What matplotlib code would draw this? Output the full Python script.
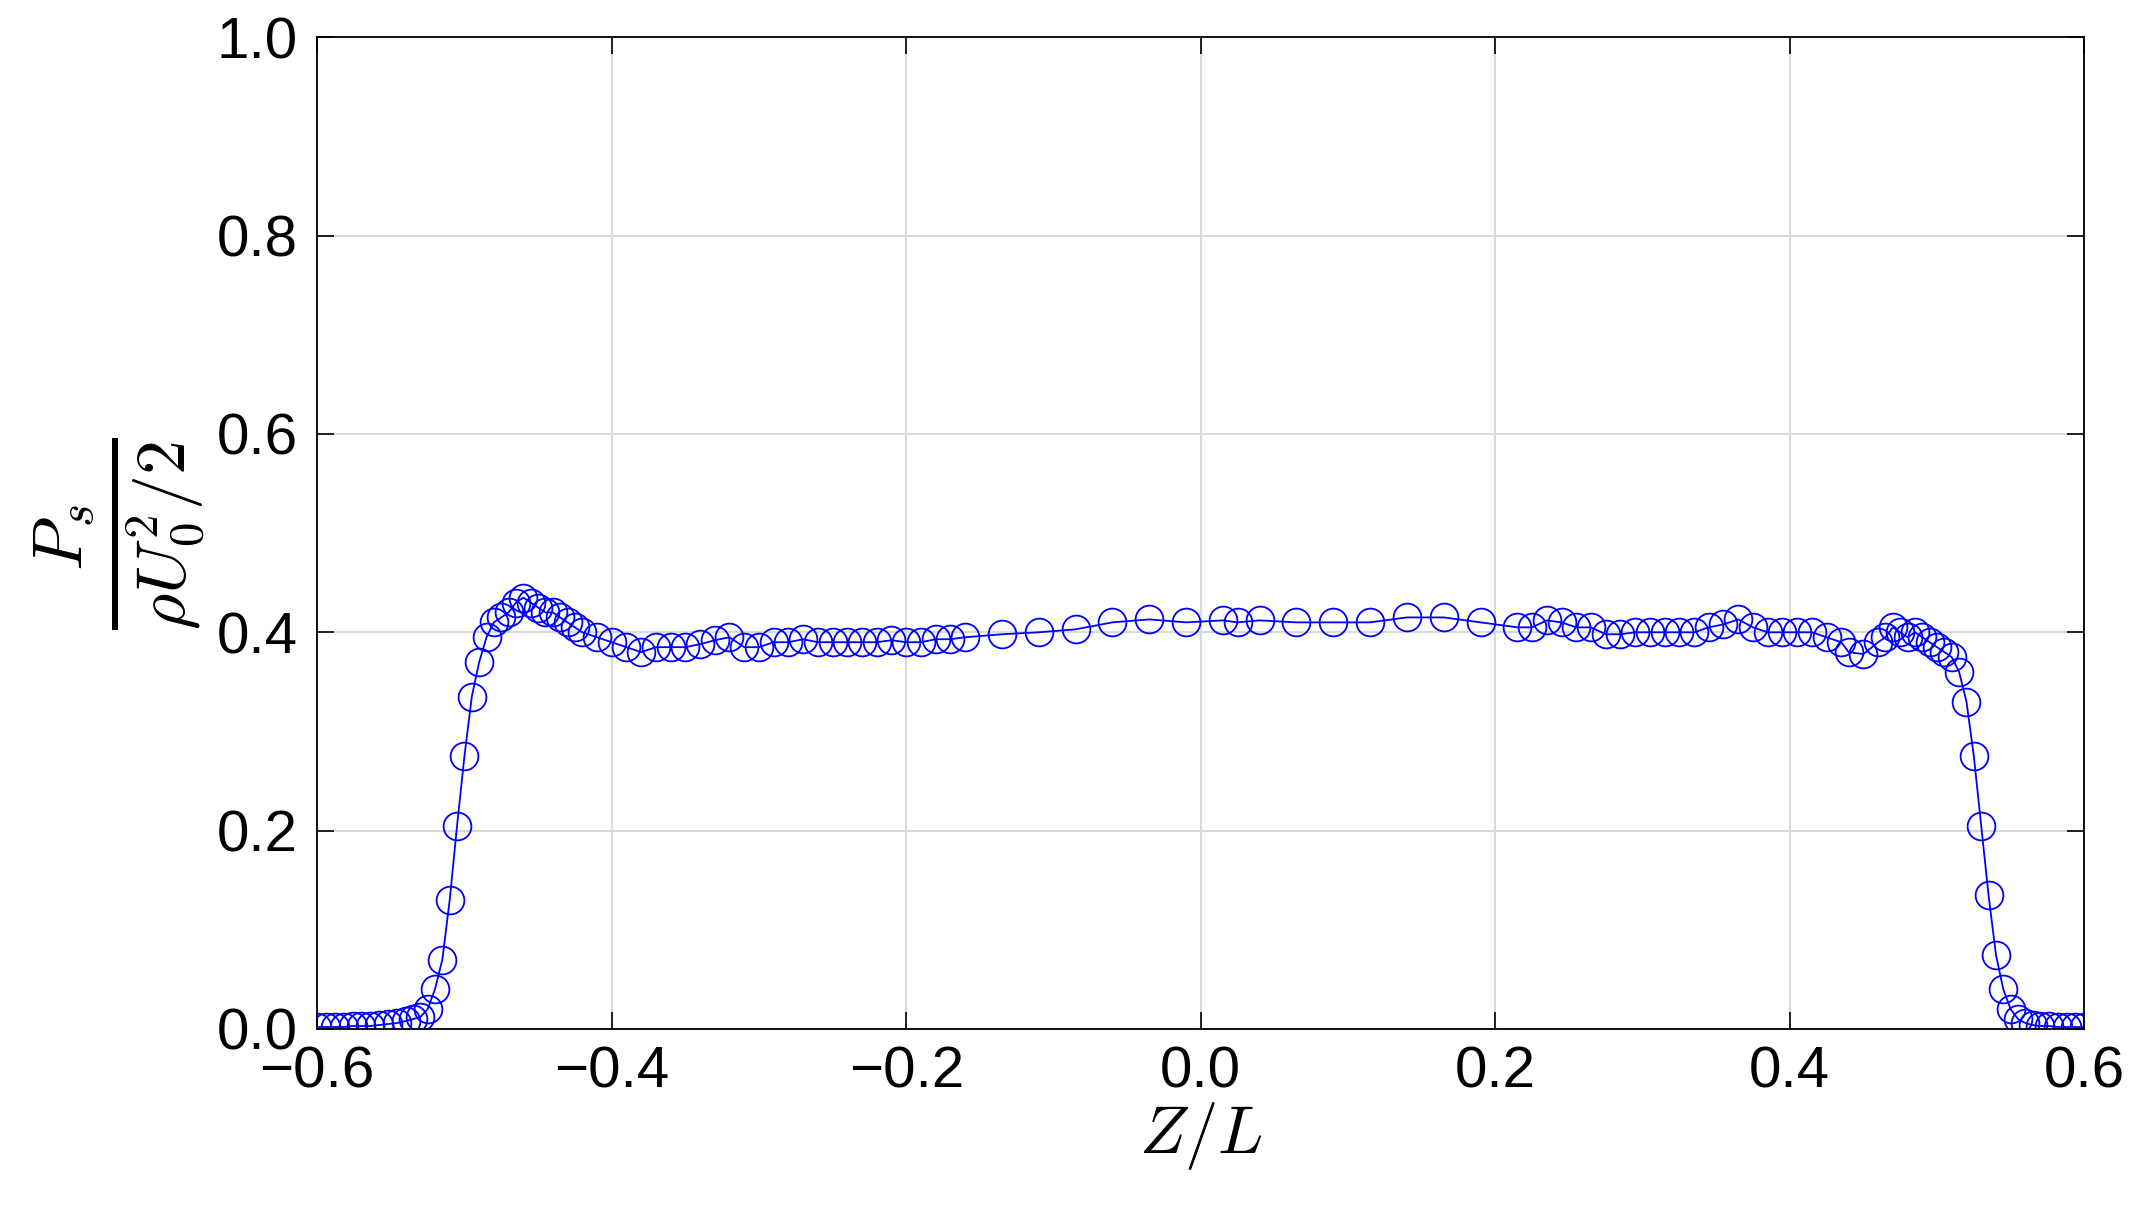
import matplotlib
matplotlib.use("Agg")
import matplotlib.pyplot as plt
import numpy as np
plt.rcParams['mathtext.fontset'] = 'cm'

x_left = [-0.6,-0.594,-0.588,-0.582,-0.576,-0.570,-0.564,-0.558,-0.552,-0.546,-0.540,-0.535,-0.530]
y_left = [0.002,0.002,0.002,0.002,0.003,0.003,0.003,0.004,0.005,0.006,0.008,0.01,0.012]
x_mid = [-0.525,-0.52,-0.515,-0.51,-0.505,-0.5,-0.495,-0.49,-0.485,-0.48,-0.475,-0.47,-0.465,-0.46,-0.455,-0.45,-0.445,-0.44,-0.435,-0.43,-0.425,-0.42,-0.41,-0.40,-0.39,-0.38,-0.37,-0.36,-0.35,-0.34,-0.33,-0.32,-0.31,-0.30,-0.29,-0.28,-0.27,-0.26,-0.25,-0.24,-0.23,-0.22,-0.21,-0.20,-0.19,-0.18,-0.17,-0.16,-0.135,-0.11,-0.085,-0.06,-0.035,-0.01,0.015,0.025,0.04,0.065,0.09,0.115,0.14,0.165,0.19,0.215,0.225,0.235,0.245,0.255,0.265,0.275,0.285,0.295,0.305,0.315,0.325,0.335,0.345,0.355,0.365,0.375,0.385,0.395,0.405,0.415,0.425,0.435,0.44,0.45,0.46,0.465,0.47,0.475,0.48,0.485,0.49,0.495,0.50,0.505,0.51,0.515,0.52,0.525,0.53,0.535,0.54,0.545,0.55,0.555]
y_mid = [0.02,0.04,0.07,0.13,0.205,0.275,0.335,0.37,0.395,0.41,0.415,0.42,0.43,0.435,0.43,0.425,0.42,0.42,0.415,0.41,0.405,0.40,0.395,0.39,0.385,0.38,0.385,0.385,0.385,0.388,0.392,0.395,0.385,0.385,0.39,0.39,0.393,0.39,0.39,0.39,0.39,0.39,0.392,0.39,0.39,0.393,0.393,0.395,0.398,0.40,0.403,0.41,0.413,0.41,0.412,0.41,0.412,0.41,0.41,0.41,0.415,0.415,0.41,0.405,0.405,0.412,0.41,0.405,0.405,0.398,0.398,0.40,0.40,0.40,0.40,0.40,0.405,0.408,0.413,0.405,0.40,0.40,0.40,0.40,0.395,0.39,0.38,0.378,0.39,0.395,0.405,0.40,0.395,0.40,0.395,0.39,0.385,0.38,0.375,0.36,0.33,0.275,0.205,0.135,0.075,0.04,0.02,0.01]
x_right = [0.560,0.565,0.570,0.576,0.582,0.588,0.594,0.6]
y_right = [0.006,0.004,0.003,0.003,0.002,0.002,0.002,0.002]

x = x_left + x_mid + x_right
y = y_left + y_mid + y_right

fig = plt.figure(figsize=(21.43, 12.25), dpi=100)
ax = fig.add_axes([0.148, 0.160, 0.8246, 0.8096])
ax.plot(x, y, '-o', color='#0000ff', lw=1.3, ms=20, mfc='none', mew=1.3)
ax.set_xlim(-0.6, 0.6)
ax.set_ylim(0, 1.0)
ax.set_xticks(np.arange(-0.6, 0.61, 0.2))
ax.set_yticks(np.arange(0, 1.01, 0.2))
ax.set_xticklabels(['\u22120.6','\u22120.4','\u22120.2','0.0','0.2','0.4','0.6'])
ax.set_yticklabels(['0.0','0.2','0.4','0.6','0.8','1.0'])
for lab in ax.get_xticklabels() + ax.get_yticklabels():
    lab.set_family('Liberation Sans'); lab.set_fontsize(42)
ax.tick_params(direction='in', top=True, right=True, length=12, width=1.2)
ax.tick_params(axis='x', pad=12)
ax.tick_params(axis='y', pad=14)
ax.grid(True, color='#d9d9d9', lw=1.5)
ax.set_axisbelow(True)
for s in ax.spines.values():
    s.set_linewidth(1.3)
ax.set_xlabel(r'$Z/L$', fontsize=48, labelpad=0)
ax.set_ylabel(r'$\frac{P_s}{\rho U_0^2/2}$', fontsize=72, labelpad=6)
fig.savefig('out.png', dpi=100)
